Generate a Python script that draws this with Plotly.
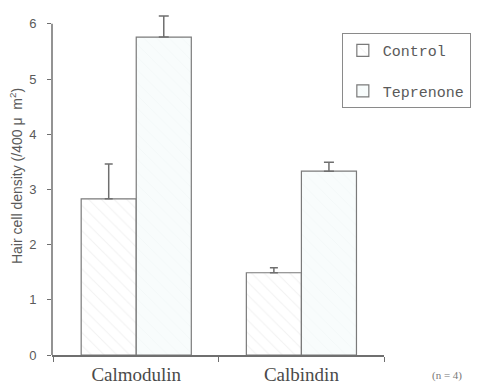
import plotly.graph_objects as go

# Hair cell density by immunostain, mean + SD (n = 4)
categories = ["Calmodulin", "Calbindin"]
control_mean = [2.83, 1.49]
control_sd = [0.63, 0.09]
teprenone_mean = [5.76, 3.33]
teprenone_sd = [0.38, 0.16]

axis_grey = "#6f6f6f"
text_grey = "#5a5a5a"

fig = go.Figure()

fig.add_trace(go.Bar(
    name="Control",
    x=categories,
    y=control_mean,
    error_y=dict(type="data", symmetric=False, array=control_sd,
                 arrayminus=[0, 0], color=axis_grey, thickness=1.5, width=4),
    marker=dict(
        color="#ffffff",
        line=dict(color="#7a7a7a", width=1.2),
        pattern=dict(shape="\\", fgcolor="#e4e4e4", bgcolor="#ffffff",
                     size=9, solidity=0.12),
    ),
    legendgroup="c",
))

fig.add_trace(go.Bar(
    name="Teprenone",
    x=categories,
    y=teprenone_mean,
    error_y=dict(type="data", symmetric=False, array=teprenone_sd,
                 arrayminus=[0, 0], color=axis_grey, thickness=1.5, width=5),
    marker=dict(
        color="#f8fcfc",
        line=dict(color="#7a7a7a", width=1.2),
        pattern=dict(shape="\\", fgcolor="#eef3f3", bgcolor="#f8fcfc",
                     size=9, solidity=0.1),
    ),
    legendgroup="t",
))

fig.update_layout(
    width=486,
    height=388,
    margin=dict(l=52, r=102, t=10, b=33, autoexpand=False),
    paper_bgcolor="white",
    plot_bgcolor="white",
    barmode="group",
    bargap=1 / 3,
    bargroupgap=0,
    showlegend=True,
    legend=dict(
        x=0.873, y=0.933, xanchor="left", yanchor="top",
        bordercolor="#8a8a8a", borderwidth=1, bgcolor="white",
        font=dict(family="Liberation Mono, Courier New, monospace",
                  size=15, color=text_grey),
        tracegroupgap=18,
        traceorder="grouped",
        itemwidth=30,
    ),
    xaxis=dict(
        type="category",
        automargin=False,
        range=[-0.51, 1.5],
        showline=True, linecolor=axis_grey, linewidth=1.5,
        ticks="outside", tickson="boundaries", ticklen=5,
        tickcolor=axis_grey, tickwidth=1,
        ticklabelstandoff=1,
        tickfont=dict(family="Liberation Serif, Times New Roman, serif",
                      size=19, color="#4a4a4a"),
        showgrid=False, zeroline=False,
    ),
    yaxis=dict(
        automargin=False,
        range=[0, 6.25],
        tickvals=[0, 1, 2, 3, 4, 5, 6],
        showline=False,
        ticks="outside", ticklen=4, tickcolor=axis_grey, tickwidth=1,
        ticklabelstandoff=8,
        tickfont=dict(family="Liberation Sans, Arial, sans-serif",
                      size=13, color=text_grey),
        showgrid=False, zeroline=False,
    ),
    shapes=[
        # vertical axis line running from 0 up to the top tick
        dict(type="line", xref="paper", yref="y", x0=0, x1=0, y0=0, y1=6,
             line=dict(color=axis_grey, width=1.5)),
    ],
    annotations=[
        dict(text="Hair cell density (/400 μ  m<sup>2</sup>)",
             xref="paper", yref="paper", x=-0.11, y=0.52,
             xanchor="center", yanchor="middle", textangle=-90,
             showarrow=False,
             font=dict(family="Liberation Sans, Arial, sans-serif",
                       size=14, color=text_grey)),
        dict(text="(n = 4)", xref="paper", yref="paper",
             x=1.24, y=-0.035, xanchor="right", yanchor="top",
             showarrow=False,
             font=dict(family="Liberation Serif, Times New Roman, serif",
                       size=11, color="#777777")),
    ],
)

fig.write_html("out.html")
